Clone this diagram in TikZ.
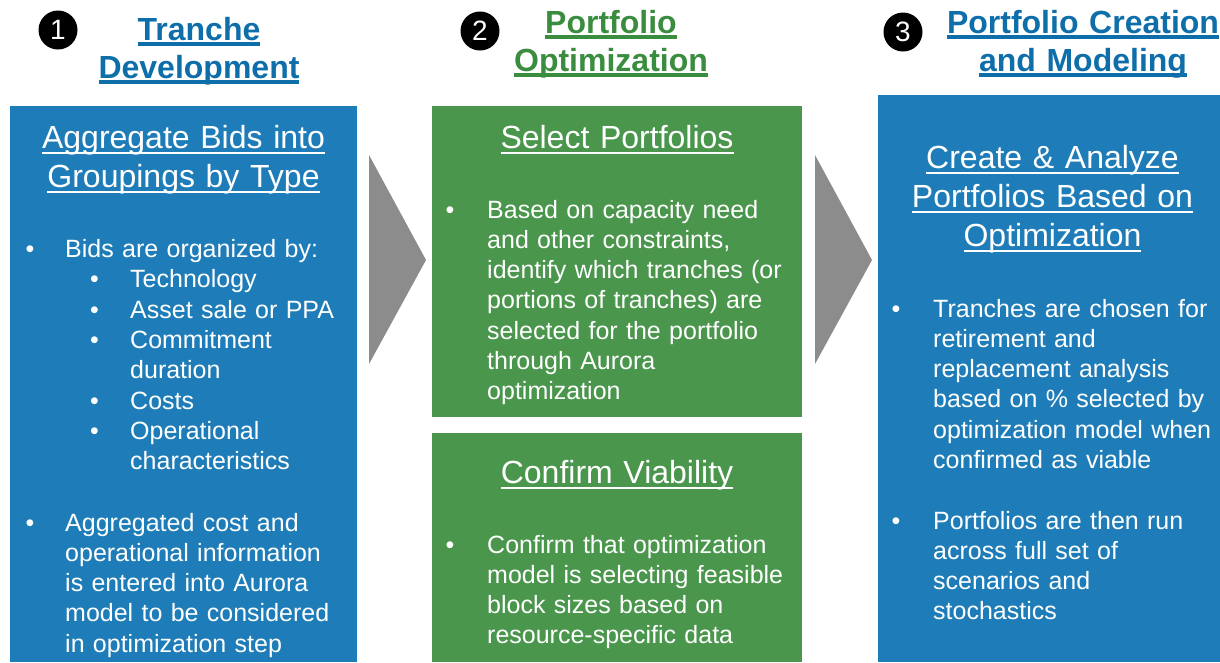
\documentclass[tikz,border=0pt]{standalone}
\usepackage{fontspec}
\setmainfont{Liberation Sans}
\usepackage{xcolor}
\definecolor{trancheblue}{RGB}{30,125,184}
\definecolor{headblue}{RGB}{14,110,170}
\definecolor{optgreen}{RGB}{74,150,76}
\definecolor{headgreen}{RGB}{58,140,62}
\definecolor{chevrongray}{RGB}{140,140,140}
\newsavebox{\ulbox}
\newcommand{\headul}[1]{\leavevmode\sbox{\ulbox}{#1}\rlap{\rule[-5.7pt]{\wd\ulbox}{3.5pt}}\usebox{\ulbox}}
\newcommand{\titleul}[1]{\leavevmode\sbox{\ulbox}{#1}\rlap{\rule[-5.5pt]{\wd\ulbox}{2pt}}\usebox{\ulbox}}
\tikzset{
    step-box/.style = {rectangle, anchor=north west, inner sep=0pt},
    step-number/.style = {circle, fill=black, text=white, inner sep=0pt, minimum size=39pt, font=\fontsize{28}{28}\selectfont},
    step-heading/.style = {text width=340pt, align=center, anchor=base, inner sep=0pt, font=\bfseries\fontsize{32}{38}\selectfont},
    box-title/.style = {text width=340pt, align=center, anchor=base, inner sep=0pt, text=white, font=\fontsize{32}{39}\selectfont},
    item-dot/.style = {anchor=base west, inner sep=0pt, text=white, font=\fontsize{25}{30.3}\selectfont},
    item-text/.style = {anchor=base west, inner sep=0pt, text width=300pt, align=left, text=white, font=\fontsize{25}{30.3}\selectfont},
    chevron/.style = {fill=chevrongray},
}
\begin{document}
\begin{tikzpicture}[x=1pt, y=-1pt]
\useasboundingbox (0,0) rectangle (1220,662);

% step headings
\node[step-number] (num-1) at (58,30) {1};
\node[step-heading, text=headblue] (head-1) at (199,40) {\headul{Tranche}\\\headul{Development}};
\node[step-number] (num-2) at (480,31) {2};
\node[step-heading, text=headgreen] (head-2) at (611,33) {\headul{Portfolio}\\\headul{Optimization}};
\node[step-number] (num-3) at (903,32) {3};
\node[step-heading, text=headblue] (head-3) at (1083,33) {\headul{Portfolio Creation}\\\headul{and Modeling}};

% boxes
\node[step-box, fill=trancheblue, minimum width=347pt, minimum height=556pt] (tranche-box) at (10,106) {};
\node[step-box, fill=optgreen, minimum width=370pt, minimum height=311pt] (select-box) at (432,106) {};
\node[step-box, fill=optgreen, minimum width=370pt, minimum height=229pt] (confirm-box) at (432,433) {};
\node[step-box, fill=trancheblue, minimum width=348pt, minimum height=567pt] (create-box) at (878,95) {};

% chevrons
\foreach \x in {369,815}
    \fill[chevron] (\x,155) -- ++(57,105) -- ++(-57,104) -- cycle;

% step 1
\node[box-title] (title-1) at (183.5,148) {\titleul{Aggregate Bids into}\\\titleul{Groupings by Type}};
\node[item-dot] (dot-1a) at (25.5,257) {\textbullet};
\node[item-text] (item-1a) at (65,257) {Bids are organized by:};
\foreach \y/\txt in {287/Technology, 318/Asset sale or PPA, 348/{Commitment\\duration}, 409/Costs, 439/{Operational\\characteristics}} {
    \node[item-dot] (subdot-\y) at (90,\y) {\textbullet};
    \node[item-text, text width=220pt] (sub-\y) at (130,\y) {\txt};
}
\node[item-dot] (dot-1b) at (25.5,531) {\textbullet};
\node[item-text] (item-1b) at (65,531) {Aggregated cost and\\operational information\\is entered into Aurora\\model to be considered\\in optimization step};

% step 2
\node[box-title] (title-2a) at (617,148) {\titleul{Select Portfolios}};
\node[item-dot] (dot-2a) at (445.5,218) {\textbullet};
\node[item-text] (item-2a) at (487,218) {Based on capacity need\\and other constraints,\\identify which tranches (or\\portions of tranches) are\\selected for the portfolio\\through Aurora\\optimization};
\node[box-title] (title-2b) at (617,483) {\titleul{Confirm Viability}};
\node[item-dot] (dot-2b) at (445.5,553) {\textbullet};
\node[item-text] (item-2b) at (487,553) {Confirm that optimization\\model is selecting feasible\\block sizes based on\\resource-specific data};

% step 3
\node[box-title] (title-3) at (1052.5,168) {\titleul{Create \& Analyze}\\\titleul{Portfolios Based on}\\\titleul{Optimization}};
\node[item-dot] (dot-3a) at (891.5,317) {\textbullet};
\node[item-text] (item-3a) at (933,317) {Tranches are chosen for\\retirement and\\replacement analysis\\based on \% selected by\\optimization model when\\confirmed as viable};
\node[item-dot] (dot-3b) at (891.5,529) {\textbullet};
\node[item-text] (item-3b) at (933,529) {Portfolios are then run\\across full set of\\scenarios and\\stochastics};
\end{tikzpicture}
\end{document}
